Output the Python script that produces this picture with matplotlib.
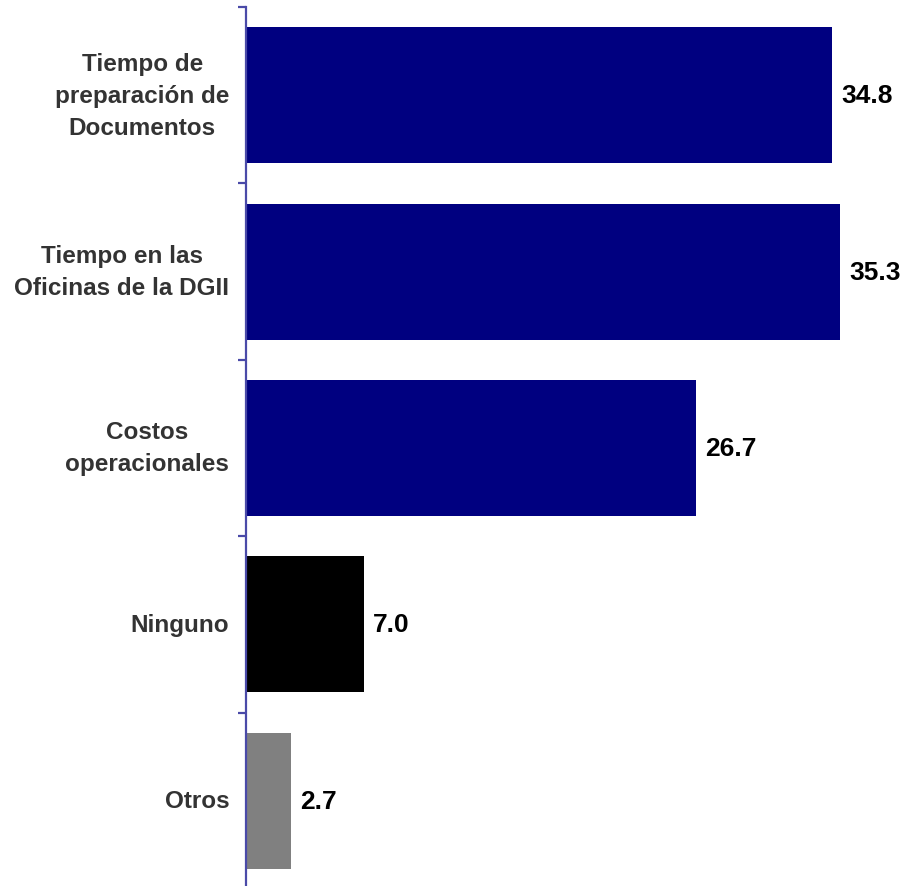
import matplotlib
matplotlib.use("Agg")
import matplotlib.pyplot as plt

categories = ["Tiempo de\npreparación de\nDocumentos", "Tiempo en las\nOficinas de la DGII",
              "Costos\noperacionales", "Ninguno", "Otros"]
values = [34.8, 35.3, 26.7, 7.0, 2.7]
colors = ["#000080", "#000080", "#000080", "#000000", "#808080"]
value_labels = ["34.8", "35.3", "26.7", "7.0", "2.7"]

plt.rcParams['font.family'] = ['Liberation Sans', 'DejaVu Sans']

fig = plt.figure(figsize=(9.05, 8.87), dpi=100)
ax = fig.add_axes([246/905, -3/887, 659/905, 882/887])

pos = list(range(len(categories)))
ax.barh(pos, values, height=0.77, color=colors, zorder=2)
ax.set_xlim(0, 659/16.84)
ax.set_ylim(len(categories)-0.5, -0.5)

for p, v, t in zip(pos, values, value_labels):
    ax.annotate(t, xy=(v, p), xytext=(6.5, 0), textcoords='offset points',
                ha='left', va='center', fontsize=19, fontweight='bold', color='black')

axc = '#4a4aa8'
for s in ['top', 'right', 'bottom']:
    ax.spines[s].set_visible(False)
ax.spines['left'].set_color(axc)
ax.spines['left'].set_linewidth(1.6)
ax.set_xticks([])
ax.set_yticks(pos)
ax.set_yticklabels(categories, fontsize=17.5, fontweight='bold', color='#333333',
                   multialignment='center', linespacing=1.5)
for lbl in ax.get_yticklabels():
    lbl.set_verticalalignment('center')
ax.tick_params(axis='y', which='major', length=0, pad=12)
ax.set_yticks([p - 0.5 for p in pos] + [len(pos) - 0.5], minor=True)
ax.tick_params(axis='y', which='minor', length=6, width=1.6, color=axc, direction='out')

fig.savefig("out.png", dpi=100)
